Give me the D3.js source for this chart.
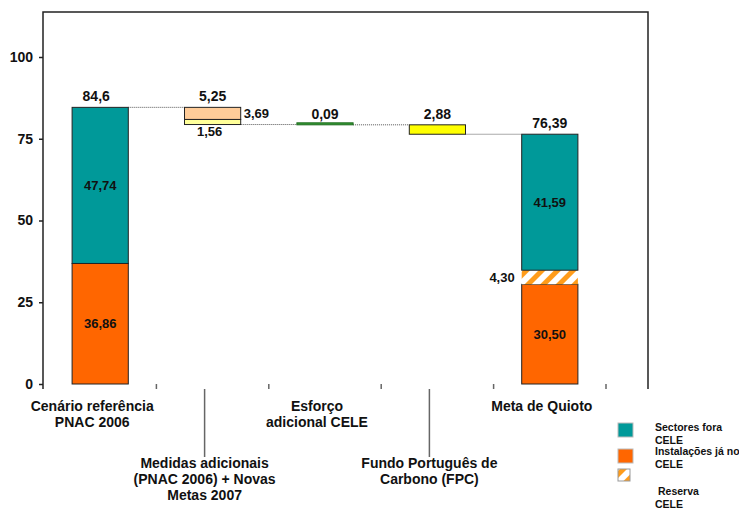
<!DOCTYPE html>
<html><head><meta charset="utf-8">
<script src="https://cdn.jsdelivr.net/npm/d3@7"></script>
<style>
body{margin:0;background:#fff;}
svg{display:block;font-family:"Liberation Sans",Arial,sans-serif;font-weight:bold;}
</style></head>
<body>
<svg id="c" width="739" height="509"></svg>
<script>
// ---- data ----
const categories = ["Cenário referência", "Medidas adicionais", "Esforço adicional CELE", "Fundo Português de Carbono (FPC)", "Meta de Quioto"];
const categoryLines = [
  ["Cenário referência", "PNAC 2006"],
  ["Medidas adicionais", "(PNAC 2006) + Novas", "Metas 2007"],
  ["Esforço", "adicional CELE"],
  ["Fundo Português de", "Carbono (FPC)"],
  ["Meta de Quioto"]
];
const staggered = [false, true, false, true, false];
const cenarioValues = [36.86, 47.74];   // Instalações já no CELE, Sectores fora CELE
const medidasValues = [1.56, 3.69];
const esforcoValues = [0.09];
const fpcValues = [2.88];
const metaValues = [30.50, 4.30, 41.59]; // Instalações, Reserva, Sectores
const totalLabels = ["84,6", "5,25", "0,09", "2,88", "76,39"];
const yTicks = [0, 25, 50, 75, 100];
const legendItems = [["Sectores fora", "CELE"], ["Instalações já no", "CELE"], ["Reserva", "CELE"]];

const fmt = v => v.toFixed(2).replace(".", ",");
const C = {teal:"#009999", orange:"#FF6600", peach:"#FFCC99", lyellow:"#FFFF99", green:"#339933", yellow:"#FFFF00", hatch:"#FF9C1A"};

const svg = d3.select("#c");
const defs = svg.append("defs");
const pat = defs.append("pattern").attr("id","hatch").attr("patternUnits","userSpaceOnUse")
  .attr("width",11).attr("height",11).attr("patternTransform","rotate(45)");
pat.append("rect").attr("width",11).attr("height",11).attr("fill","#fff");
pat.append("rect").attr("width",5).attr("height",11).attr("fill",C.hatch);

const x = d3.scaleBand().domain(categories).range([44, 606]).paddingInner(0.5).paddingOuter(0.25);
const y = d3.scaleLinear().domain([0, 100]).range([384, 57]);
const bw = x.bandwidth();

// ---- frame ----
svg.append("path").attr("d", `M43,389V12H648V389`).attr("fill","none").attr("stroke","#222").attr("stroke-width",1.5);

// ---- build segments (waterfall) ----
const segs = [];
const start = d3.sum(cenarioValues);
let acc = 0;
[C.orange, C.teal].forEach((col,i)=>{ segs.push({c:0,y0:acc,y1:acc+cenarioValues[i],fill:col,stroke:"#222"}); acc+=cenarioValues[i]; });
let level = start;
const medTot = d3.sum(medidasValues);
let b = level - medTot; acc = b;
[C.lyellow, C.peach].forEach((col,i)=>{ segs.push({c:1,y0:acc,y1:acc+medidasValues[i],fill:col,stroke:"#222"}); acc+=medidasValues[i]; });
level = b;
const esTot = d3.sum(esforcoValues);
segs.push({c:2,y0:level-esTot,y1:level,fill:C.green,stroke:"#1f6b1f",minH:2});
level -= esTot;
const fpTot = d3.sum(fpcValues);
segs.push({c:3,y0:level-fpTot,y1:level,fill:C.yellow,stroke:"#222"});
level -= fpTot;
acc = 0;
[C.orange, "url(#hatch)", C.teal].forEach((col,i)=>{ segs.push({c:4,y0:acc,y1:acc+metaValues[i],fill:col,stroke:col==="url(#hatch)"?"none":"#222"}); acc+=metaValues[i]; });

const tops = [start, start, start - medTot, start - medTot - esTot, d3.sum(metaValues)];
const bottoms = [0, start - medTot, start - medTot - esTot, level, 0];

// connectors (dotted)
const conn = [[0, tops[0]], [1, bottoms[1]], [2, bottoms[2]], [3, bottoms[3]]];
svg.append("g").selectAll("line").data(conn).join("line")
  .attr("x1", d=>x(categories[d[0]])+bw).attr("x2", d=>x(categories[d[0]+1]))
  .attr("y1", d=>y(d[1])).attr("y2", d=>y(d[1]))
  .attr("stroke","#555").attr("stroke-width",1).attr("stroke-dasharray","1,1");

// bars
svg.append("g").selectAll("rect").data(segs).join("rect")
  .attr("x", d=>x(categories[d.c]))
  .attr("width", bw)
  .attr("y", d=>{ const h=y(d.y0)-y(d.y1); return d.minH && h<d.minH ? y(d.y0)-d.minH : y(d.y1); })
  .attr("height", d=>Math.max(y(d.y0)-y(d.y1), d.minH||0))
  .attr("fill", d=>d.fill)
  .attr("stroke", d=>d.stroke).attr("stroke-width",1);

// ---- axes ----
const yAxis = d3.axisLeft(y).tickValues(yTicks).tickSize(4).tickPadding(5);
const gy = svg.append("g").attr("transform","translate(43,0)").call(yAxis);
gy.select(".domain").remove();
gy.selectAll("line").attr("stroke","#222").attr("stroke-width",1.5);
gy.selectAll("text").attr("font-size",14).attr("font-weight","bold").attr("fill","#111")
  .attr("font-family","Liberation Sans, Arial, sans-serif").attr("dx",-1);

// x ticks (band boundaries), pointing up
const bounds = categories.map(c=>x(c) - x.step()*x.paddingInner()/2 + x.step());
svg.append("g").selectAll("line").data(bounds).join("line")
  .attr("x1",d=>d).attr("x2",d=>d).attr("y1",389).attr("y2",384)
  .attr("stroke","#666").attr("stroke-width",1.5);

// leader lines for staggered labels
const off = -8;
svg.append("g").selectAll("line").data(categories.filter((c,i)=>staggered[i])).join("line")
  .attr("x1",c=>x(c)+bw/2+off).attr("x2",c=>x(c)+bw/2+off).attr("y1",389).attr("y2",457)
  .attr("stroke","#666").attr("stroke-width",1.5);

// category labels
categories.forEach((c,i)=>{
  const t = svg.append("text").attr("text-anchor","middle").attr("font-size",14).attr("fill","#111")
    .attr("x", x(c)+bw/2+off).attr("y", staggered[i] ? 468 : 411);
  categoryLines[i].forEach((ln,j)=>t.append("tspan").attr("x", x(c)+bw/2+off).attr("dy", j?16:0).text(ln));
});

// total labels
svg.append("g").selectAll("text").data(totalLabels).join("text")
  .attr("x",(d,i)=>x(categories[i])+bw/2 + (i===0?-4:0))
  .attr("y",(d,i)=>y(tops[i]) - 6)
  .attr("text-anchor","middle").attr("font-size",14).attr("fill","#111").text(d=>d);

// segment labels
const mid = s => y((s.y0+s.y1)/2);
const inside = [[segs[0], cenarioValues[0]], [segs[1], cenarioValues[1]], [segs[6], metaValues[0]], [segs[8], metaValues[2]]];
svg.append("g").selectAll("text").data(inside).join("text")
  .attr("x", d=>x(categories[d[0].c])+bw/2).attr("y", d=>mid(d[0]))
  .attr("dy","0.35em").attr("text-anchor","middle").attr("font-size",13).attr("fill","#111").text(d=>fmt(d[1]));

// 3,69 right of bar 2
svg.append("text").attr("x", x(categories[1])+bw+3).attr("y", mid(segs[3])).attr("dy","0.35em")
  .attr("font-size",13).attr("fill","#111").text(fmt(medidasValues[1]));
// 1,56 below bar 2
svg.append("text").attr("x", x(categories[1])+bw/2-3).attr("y", y(bottoms[1])+7).attr("dy","0.35em")
  .attr("text-anchor","middle").attr("font-size",13).attr("fill","#111").text(fmt(medidasValues[0]));
// 4,30 left of bar 5
svg.append("text").attr("x", x(categories[4])-7).attr("y", mid(segs[7])).attr("dy","0.35em")
  .attr("text-anchor","end").attr("font-size",13).attr("fill","#111").text(fmt(metaValues[1]));

// ---- legend ----
const lg = svg.append("g");
const lgFills = [C.teal, C.orange, "url(#hatch)"];
const lgBoxY = [423, 449, 469];
const lgTextY = [431, 455, 495];
const lgTextX = [655, 655, 658];
lgFills.forEach((f,i)=>{
  const s = i===2 ? 12 : 15;
  lg.append("rect").attr("x",618).attr("y",lgBoxY[i]).attr("width",s).attr("height",i===2?12:14)
    .attr("fill",f).attr("stroke", i===2?"#999":"#bbb").attr("stroke-width",1);
  const t = lg.append("text").attr("font-size",10.5).attr("fill","#111").attr("x",lgTextX[i]).attr("y",lgTextY[i]);
  legendItems[i].forEach((ln,j)=>t.append("tspan").attr("x", j? 655 : lgTextX[i]).attr("dy", j?12.5:0).text(ln));
});
</script>
</body></html>
